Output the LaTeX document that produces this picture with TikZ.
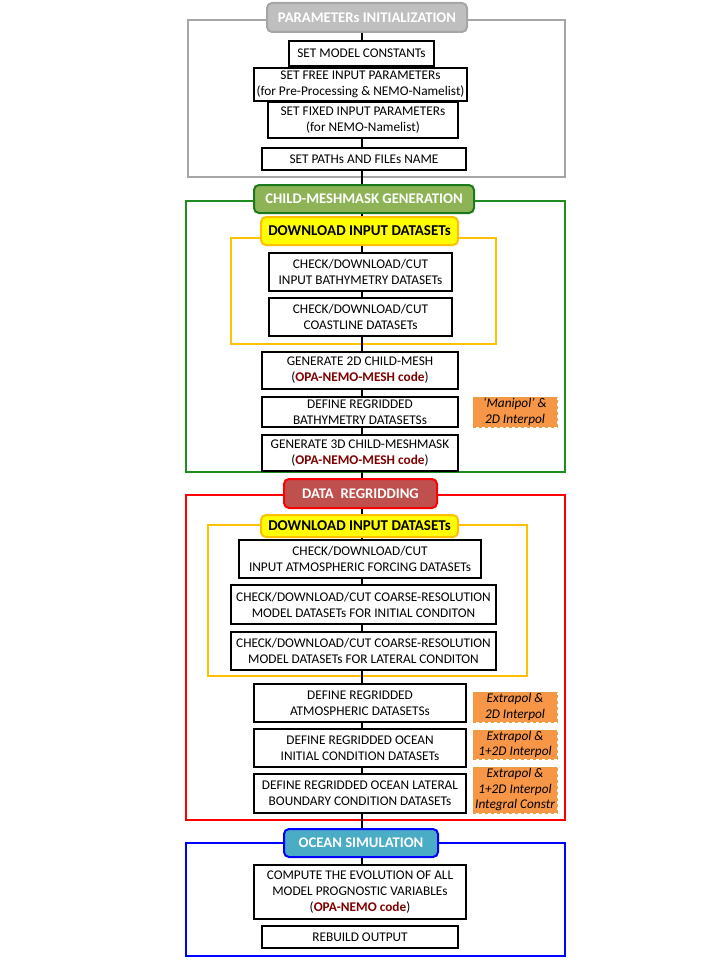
\documentclass[tikz,border=0pt]{standalone}
\usepackage{fontspec}
\setmainfont{Carlito}
\definecolor{grayT}{HTML}{BFBFBF}
\definecolor{grayB}{HTML}{A6A6A6}
\definecolor{greenT}{HTML}{8DB356}
\definecolor{greenB}{HTML}{1B7A1B}
\definecolor{greenF}{HTML}{1E8C1E}
\definecolor{redT}{HTML}{C0504D}
\definecolor{redF}{HTML}{FF0000}
\definecolor{yelT}{HTML}{FFFF00}
\definecolor{yelB}{HTML}{FFC000}
\definecolor{blueT}{HTML}{4BACC6}
\definecolor{blueF}{HTML}{0000FF}
\definecolor{orangeT}{HTML}{F79646}
\definecolor{orangeB}{HTML}{D9A53F}
\definecolor{darkred}{HTML}{800000}
\newcommand{\opa}[1]{(\textcolor{darkred}{\textbf{#1}})}
\begin{document}
\begin{tikzpicture}[x=1pt,y=-1pt,
  box/.style={draw=black,line width=1.6pt,fill=white,align=center,inner sep=0pt,
    font=\fontsize{13.3}{16}\selectfont},
  title/.style={rounded corners=5pt,line width=2pt,align=center,inner sep=0pt,
    font=\fontsize{14.7}{16}\selectfont\bfseries},
  note/.style={draw=orangeB,dashed,line width=1pt,fill=orangeT,align=center,inner sep=0pt,
    font=\fontsize{13.3}{15.5}\selectfont\itshape},
  frame/.style={line width=2.2pt},
  link/.style={line width=1.3pt,black}]
\useasboundingbox (0,0) rectangle (720,960);
% frames
\draw[frame,grayB] (188,20) rectangle (565,177);
\draw[frame,greenF] (186,201) rectangle (565,472);
\draw[frame,yelB] (231,238) rectangle (496,344);
\draw[frame,redF] (186,495) rectangle (565,820);
\draw[frame,yelB] (208,525) rectangle (527,676);
\draw[frame,blueF] (186,843) rectangle (565,956);
% PARAMETERS
\node[title,draw=grayB,fill=grayT,text=white,minimum width=200pt,minimum height=29pt] (t1) at (367,17.5) {PARAMETERs INITIALIZATION};
\node[box,minimum width=145pt,minimum height=25pt] (a1) at (361.5,53.5) {SET MODEL CONSTANTs};
\node[box,minimum width=213pt,minimum height=33pt] (a2) at (360.5,84.5) {SET FREE INPUT PARAMETERs\\(for Pre-Processing \& NEMO-Namelist)};
\node[box,minimum width=190pt,minimum height=36pt] (a3) at (363,120) {SET FIXED INPUT PARAMETERs\\(for NEMO-Namelist)};
\node[box,minimum width=204pt,minimum height=22pt] (a4) at (364,159) {SET PATHs AND FILEs NAME};
% CHILD-MESHMASK
\node[title,draw=greenB,fill=greenT,text=white,minimum width=220pt,minimum height=28pt] (t2) at (364,199) {CHILD-MESHMASK GENERATION};
\node[title,draw=yelB,fill=yelT,text=black,minimum width=197pt,minimum height=28pt,font=\fontsize{15}{16}\selectfont\bfseries] (y1) at (359.5,231) {DOWNLOAD INPUT DATASETs};
\node[box,minimum width=183pt,minimum height=38pt] (b1) at (360.5,272) {CHECK/DOWNLOAD/CUT\\INPUT BATHYMETRY DATASETs};
\node[box,minimum width=183pt,minimum height=38pt] (b2) at (360.5,317) {CHECK/DOWNLOAD/CUT\\COASTLINE DATASETs};
\node[box,minimum width=196pt,minimum height=37pt] (b3) at (360,370.5) {GENERATE 2D CHILD-MESH\\\opa{OPA-NEMO-MESH code}};
\node[box,minimum width=196pt,minimum height=30pt] (b4) at (360,412) {DEFINE REGRIDDED\\BATHYMETRY DATASETSs};
\node[box,minimum width=196pt,minimum height=36pt] (b5) at (360,453) {GENERATE 3D CHILD-MESHMASK\\\opa{OPA-NEMO-MESH code}};
\node[note,minimum width=84pt,minimum height=30pt] (n1) at (515,412) {‘Manipol’ \&\\2D Interpol};
% DATA REGRIDDING
\node[title,draw=redF,fill=redT,text=white,minimum width=153pt,minimum height=29pt] (t3) at (360.5,493.5) {DATA\ \ REGRIDDING};
\node[title,draw=yelB,fill=yelT,text=black,minimum width=197pt,minimum height=22pt,font=\fontsize{15}{16}\selectfont\bfseries] (y2) at (359.5,526) {DOWNLOAD INPUT DATASETs};
\node[box,minimum width=242pt,minimum height=38pt] (c1) at (360,559) {CHECK/DOWNLOAD/CUT\\INPUT ATMOSPHERIC FORCING DATASETs};
\node[box,minimum width=265pt,minimum height=39pt] (c2) at (363.5,604.5) {CHECK/DOWNLOAD/CUT COARSE-RESOLUTION\\MODEL DATASETs FOR INITIAL CONDITON};
\node[box,minimum width=265pt,minimum height=38pt] (c3) at (363.5,651) {CHECK/DOWNLOAD/CUT COARSE-RESOLUTION\\MODEL DATASETs FOR LATERAL CONDITON};
\node[box,minimum width=212pt,minimum height=38pt] (c4) at (360,703) {DEFINE REGRIDDED\\ATMOSPHERIC DATASETSs};
\node[box,minimum width=212pt,minimum height=38pt] (c5) at (360,748) {DEFINE REGRIDDED OCEAN\\INITIAL CONDITION DATASETs};
\node[box,minimum width=212pt,minimum height=39pt] (c6) at (360,793.5) {DEFINE REGRIDDED OCEAN LATERAL\\BOUNDARY CONDITION DATASETs};
\node[note,minimum width=84pt,minimum height=30pt] (n2) at (515,707) {Extrapol \&\\2D Interpol};
\node[note,minimum width=84pt,minimum height=29pt] (n3) at (515,744.5) {Extrapol \&\\1+2D Interpol};
\node[note,minimum width=84pt,minimum height=46pt] (n4) at (515,790) {Extrapol \&\\1+2D Interpol\\Integral Constr};
% OCEAN SIMULATION
\node[title,draw=blueF,fill=blueT,text=white,minimum width=154pt,minimum height=28pt] (t4) at (361,843) {OCEAN SIMULATION};
\node[box,minimum width=212pt,minimum height=54pt] (d1) at (360,892) {COMPUTE THE EVOLUTION OF ALL\\MODEL PROGNOSTIC VARIABLEs\\\opa{OPA-NEMO code}};
\node[box,minimum width=196pt,minimum height=22pt] (d2) at (360,937) {REBUILD OUTPUT};
% connectors
\foreach \u/\v in {t1/a1,a1/a2,a2/a3,a3/a4,a4/t2,t2/y1,y1/b1,b1/b2,b2/b3,b3/b4,b4/b5,b5/t3,t3/y2,y2/c1,c1/c2,c2/c3,c3/c4,c4/c5,c5/c6,c6/t4,t4/d1}
  \draw[link] (\u.south -| 362,0) -- (\v.north -| 362,0);
\end{tikzpicture}
\end{document}
